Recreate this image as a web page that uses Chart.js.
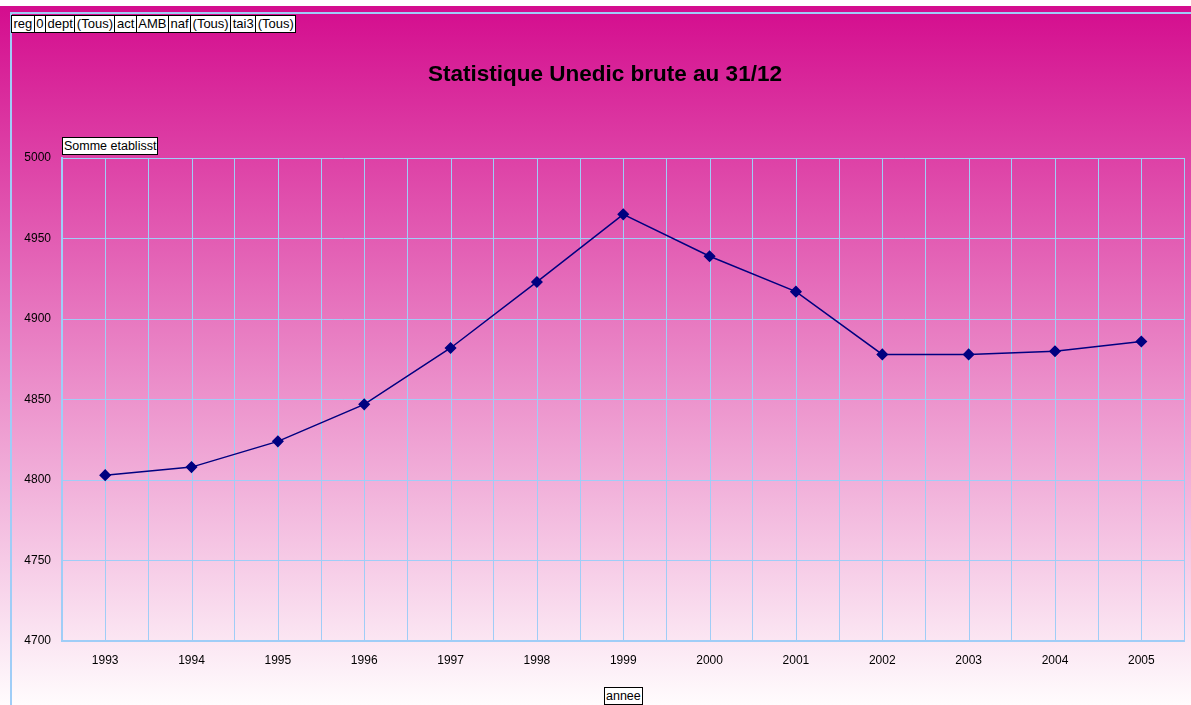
<!DOCTYPE html>
<html>
<head>
<meta charset="utf-8">
<script src="https://cdn.jsdelivr.net/npm/chart.js@4"></script>
<style>
  body { margin: 0; background: #fff; font-family: "Liberation Sans", Arial, sans-serif; }
  #wrap { position: relative; width: 1191px; height: 705px; overflow: hidden; }
  #chart { position: absolute; left: 0; top: 0; }
  .btn { position: absolute; background: #fff; border: 1px solid #000; font-size: 12.5px; line-height: 16px; height: 16px; padding: 0 1px; color: #000; box-sizing: content-box; white-space: nowrap; }
  #fields { position: absolute; left: 11px; top: 15px; display: flex; }
  #fields .btn { position: static; margin-right: -1px; font-size: 13px; padding: 0 1.5px; }
</style>
</head>
<body>
<div id="wrap">
  <canvas id="chart" width="1191" height="705"></canvas>
  <div id="fields"></div>
  <div class="btn" style="left:62px;top:137px;">Somme etablisst</div>
  <div class="btn" style="left:604px;top:687px;">annee</div>
</div>
<script>
const fields = ["reg", "0", "dept", "(Tous)", "act", "AMB", "naf", "(Tous)", "tai3", "(Tous)"];
const labels = ["1993", "1994", "1995", "1996", "1997", "1998", "1999", "2000", "2001", "2002", "2003", "2004", "2005"];
const values = [4803, 4808, 4824, 4847, 4882, 4923, 4965, 4939, 4917, 4878, 4878, 4880, 4886];
const yTicks = [4700, 4750, 4800, 4850, 4900, 4950, 5000];
const title = "Statistique Unedic brute au 31/12";

const fieldBox = document.getElementById('fields');
fields.forEach(f => {
  const d = document.createElement('div');
  d.className = 'btn';
  d.textContent = f;
  fieldBox.appendChild(d);
});

const gridBlue = "#9fcdf7";

const backdrop = {
  id: 'backdrop',
  beforeDraw(chart) {
    const c = chart.ctx;
    c.save();
    c.fillStyle = "#ffffff";
    c.fillRect(0, 0, chart.width, chart.height);
    const g = c.createLinearGradient(0, 6, 0, chart.height);
    g.addColorStop(0, "#d40d8e");
    g.addColorStop(1, "#fffcfd");
    c.fillStyle = g;
    c.fillRect(0, 6, chart.width, chart.height - 6);
    // outer frame
    c.strokeStyle = gridBlue;
    c.lineWidth = 2;
    c.beginPath();
    c.moveTo(11, chart.height);
    c.lineTo(11, 13);
    c.lineTo(chart.width, 13);
    c.stroke();
    // title
    c.fillStyle = "#000";
    c.font = "bold 22.5px 'Liberation Sans', Arial, sans-serif";
    c.textAlign = "center";
    c.textBaseline = "middle";
    c.fillText(title, 605, 75);
    c.restore();
  },
  beforeDatasetsDraw(chart) {
    // extra vertical grid lines through each category centre
    const c = chart.ctx, x = chart.scales.x, a = chart.chartArea;
    c.save();
    c.strokeStyle = gridBlue;
    c.lineWidth = 1;
    labels.forEach((l, i) => {
      const px = Math.round(x.getPixelForValue(i)) + 0.5;
      c.beginPath();
      c.moveTo(px, a.top);
      c.lineTo(px, a.bottom);
      c.stroke();
    });
    c.restore();
  }
};

new Chart(document.getElementById('chart'), {
  type: 'line',
  data: {
    labels: labels,
    datasets: [{
      data: values,
      borderColor: "#000080",
      backgroundColor: "#000080",
      borderWidth: 1.5,
      pointStyle: 'rectRot',
      pointRadius: 5,
      pointHoverRadius: 5,
      tension: 0,
    }],
  },
  options: {
    responsive: false,
    animation: false,
    events: [],
    layout: { padding: { left: 0, right: 4, top: 158, bottom: 0 } },
    plugins: {
      legend: { display: false },
      title: { display: false },
      tooltip: { enabled: false },
    },
    scales: {
      x: {
        offset: true,
        grid: { offset: true, color: gridBlue, lineWidth: 1, drawTicks: false },
        border: { color: gridBlue, width: 2 },
        ticks: { color: "#000", font: { size: 12, family: "'Liberation Sans', Arial" }, padding: 12, autoSkip: false, maxRotation: 0 },
        afterFit(s) { s.height = 64; },
      },
      y: {
        min: yTicks[0],
        max: yTicks[yTicks.length - 1],
        afterBuildTicks(s) { s.ticks = yTicks.map(v => ({ value: v })); },
        grid: { color: gridBlue, lineWidth: 1, drawTicks: false },
        border: { color: gridBlue, width: 2 },
        ticks: { color: "#000", font: { size: 12, family: "'Liberation Sans', Arial" }, padding: 11, callback: v => String(v) },
        afterFit(s) { s.width = 62; },
      },
    },
  },
  plugins: [backdrop],
});
</script>
</body>
</html>
